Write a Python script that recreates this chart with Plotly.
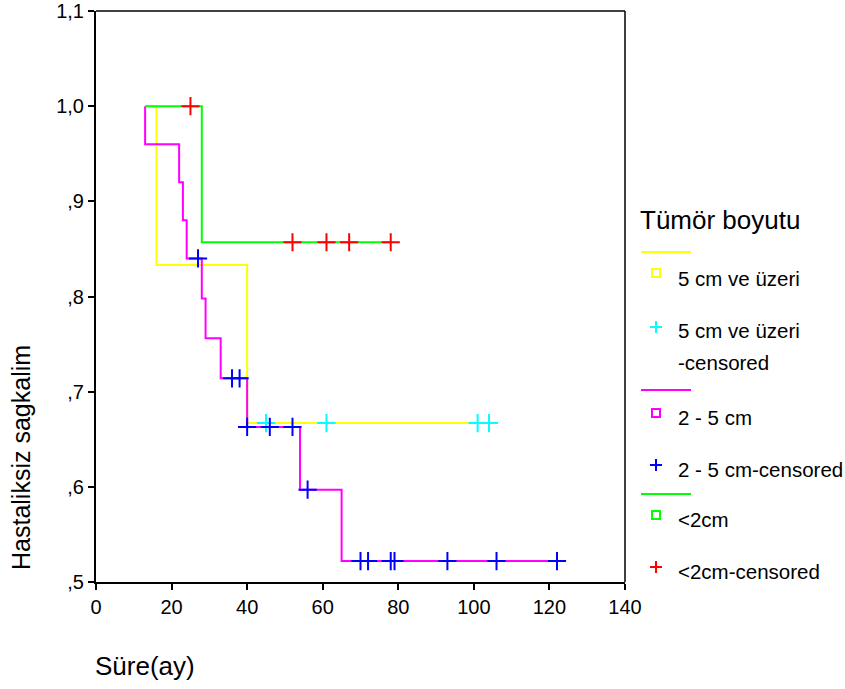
import plotly.graph_objects as go

# Kaplan-Meier step data per tumour-size group (time in months, survival proportion)
big_label = "5 cm ve üzeri"
big_time = [13, 16, 40, 104]
big_surv = [1.0, 0.833, 0.667, 0.667]
big_cens = [45, 61, 101, 104]

mid_label = "2 - 5 cm"
mid_time = [13, 13, 22, 23, 24, 28, 29, 33, 40, 54, 65, 122]
mid_surv = [1.0, 0.96, 0.92, 0.88, 0.84, 0.798, 0.756, 0.714, 0.663, 0.597, 0.522, 0.522]
mid_cens = [27, 36, 38, 40, 46, 52, 56, 70, 72, 78, 79, 93, 106, 122]

small_label = "<2cm"
small_time = [13, 28, 78]
small_surv = [1.0, 0.857, 0.857]
small_cens = [25, 52, 61, 67, 78]

x_ticks = [0, 20, 40, 60, 80, 100, 120, 140]
y_ticks = [0.5, 0.6, 0.7, 0.8, 0.9, 1.0, 1.1]
y_tick_text = [",5", ",6", ",7", ",8", ",9", "1,0", "1,1"]

FONT = "Liberation Sans, Arial, sans-serif"
YELLOW, CYAN = "#FFFF00", "#00FFFF"
MAGENTA, BLUE = "#FF00FF", "#0000FF"
GREEN, RED = "#00FF00", "#FF0000"


def step_at(times, surv, t):
    """Survival value of a right-continuous step curve at time t."""
    val = surv[0]
    for ti, si in zip(times, surv):
        if ti <= t:
            val = si
    return val


fig = go.Figure()

curves = [
    (big_time, big_surv, YELLOW),
    (mid_time, mid_surv, MAGENTA),
    (small_time, small_surv, GREEN),
]
for times, surv, col in curves:
    fig.add_trace(go.Scatter(x=times, y=surv, mode="lines",
                             line=dict(color=col, width=2, shape="hv"),
                             showlegend=False, hoverinfo="skip"))

censored = [
    (big_cens, big_time, big_surv, CYAN),
    (mid_cens, mid_time, mid_surv, BLUE),
    (small_cens, small_time, small_surv, RED),
]
for cens, times, surv, col in censored:
    fig.add_trace(go.Scatter(
        x=cens, y=[step_at(times, surv, c) for c in cens], mode="markers",
        marker=dict(symbol="cross-thin", size=13, color=col,
                    line=dict(color=col, width=2)),
        showlegend=False, hoverinfo="skip"))

# Plot-area geometry in pixels, used to place the hand-drawn legend
L, R, T, B = 96, 625, 11, 582
W, H = 845, 689


def px(xp):
    return (xp - L) / (R - L)


def py(yp):
    return (B - yp) / (B - T)


shapes = []
annotations = []

# axis frame (top and right edges)
shapes.append(dict(type="line", xref="paper", yref="paper", x0=0, x1=1, y0=1, y1=1,
                   line=dict(color="black", width=1.5)))
shapes.append(dict(type="line", xref="paper", yref="paper", x0=1, x1=1, y0=0, y1=1,
                   line=dict(color="black", width=1.5)))


def legend_line(y, col):
    shapes.append(dict(type="line", xref="paper", yref="paper",
                       x0=px(641), x1=px(691), y0=py(y), y1=py(y),
                       line=dict(color=col, width=2)))


def legend_square(y, col):
    shapes.append(dict(type="rect", xref="paper", yref="paper",
                       x0=px(652), x1=px(660), y0=py(y - 4), y1=py(y + 4),
                       line=dict(color=col, width=2), fillcolor="rgba(0,0,0,0)"))


def legend_plus(y, col):
    shapes.append(dict(type="line", xref="paper", yref="paper",
                       x0=px(650), x1=px(662), y0=py(y), y1=py(y),
                       line=dict(color=col, width=2)))
    shapes.append(dict(type="line", xref="paper", yref="paper",
                       x0=px(656), x1=px(656), y0=py(y - 6), y1=py(y + 6),
                       line=dict(color=col, width=2)))


def legend_text(y, text, size=20.5):
    annotations.append(dict(xref="paper", yref="paper", x=px(676), y=py(y),
                            xanchor="left", yanchor="middle", showarrow=False,
                            text=text, font=dict(family=FONT, size=size, color="black")))


annotations.append(dict(xref="paper", yref="paper", x=px(638), y=py(220),
                        xanchor="left", yanchor="middle", showarrow=False,
                        text="Tümör boyutu", font=dict(family=FONT, size=26, color="black")))

legend_line(252, YELLOW)
legend_square(273, YELLOW)
legend_text(278, big_label)
legend_plus(327, CYAN)
legend_text(330, big_label)
legend_text(362, "-censored")
legend_line(390, MAGENTA)
legend_square(413, MAGENTA)
legend_text(417, mid_label)
legend_plus(465, BLUE)
legend_text(469, mid_label + "-censored")
legend_line(494, GREEN)
legend_square(515, GREEN)
legend_text(519, small_label)
legend_plus(567, RED)
legend_text(571, small_label + "-censored")

# axis titles
annotations.append(dict(xref="paper", yref="paper", x=px(93), y=py(666),
                        xanchor="left", yanchor="middle", showarrow=False,
                        text="Süre(ay)", font=dict(family=FONT, size=26, color="black")))
annotations.append(dict(xref="paper", yref="paper", x=px(21), y=py(458),
                        xanchor="center", yanchor="middle", showarrow=False, textangle=-90,
                        text="Hastaliksiz sagkalim", font=dict(family=FONT, size=25, color="black")))

fig.update_layout(
    width=W, height=H,
    margin=dict(l=L, r=W - R, t=T, b=H - B, pad=0, autoexpand=False),
    paper_bgcolor="white", plot_bgcolor="white",
    showlegend=False,
    shapes=shapes, annotations=annotations,
    font=dict(family=FONT, size=20, color="black"),
)
fig.update_xaxes(range=[0, 140], tickvals=x_ticks, ticks="outside", ticklen=6,
                 tickwidth=1.5, tickcolor="black", showgrid=False, zeroline=False,
                 showline=True, linecolor="black", linewidth=2, automargin=False,
                 tickfont=dict(family=FONT, size=20, color="black"))
fig.update_yaxes(range=[0.5, 1.1], tickvals=y_ticks, ticktext=y_tick_text,
                 ticks="outside", ticklen=6, tickwidth=1.5, tickcolor="black",
                 showgrid=False, zeroline=False, showline=True, linecolor="black",
                 linewidth=2, automargin=False,
                 tickfont=dict(family=FONT, size=20, color="black"))

fig.write_html("out.html")
